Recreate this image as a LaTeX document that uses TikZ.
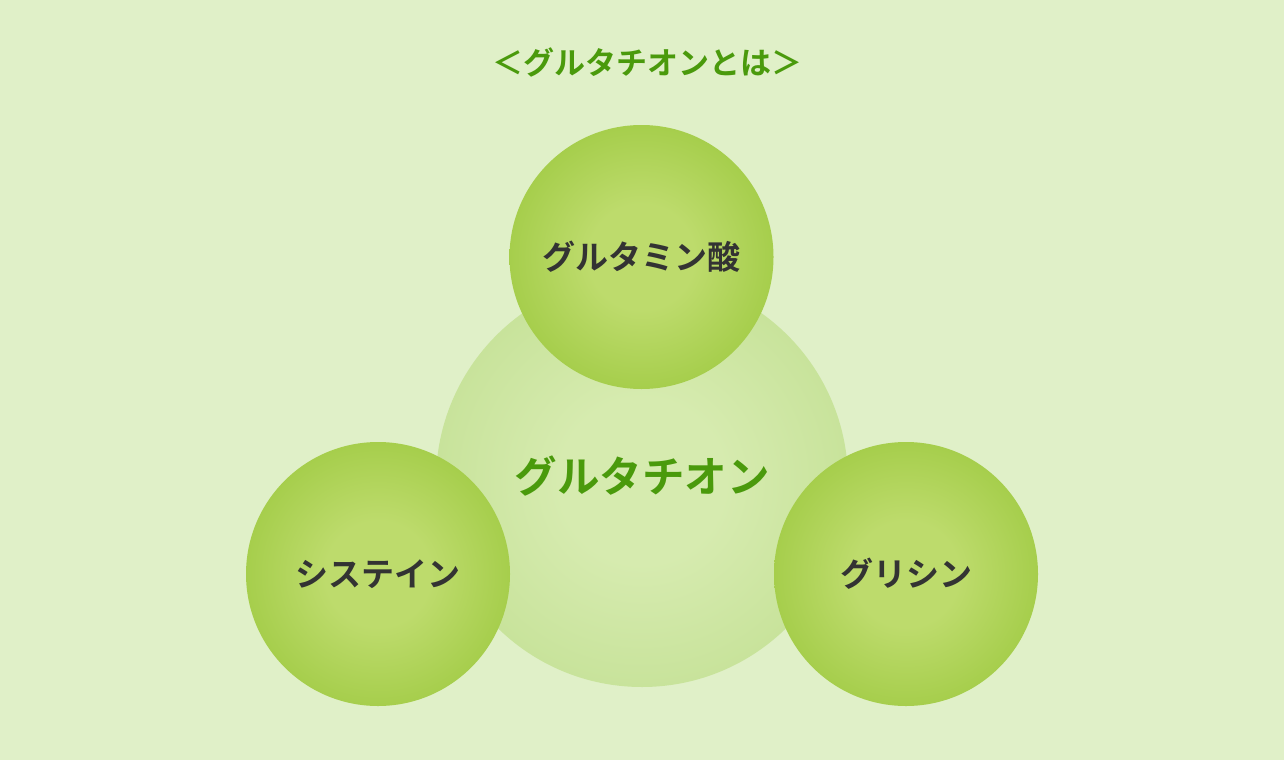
\documentclass[tikz,border=0pt]{standalone}
\usepackage{fontspec}
\newfontfamily\jp{Noto Sans CJK JP}[BoldFont={* Bold}]
\definecolor{bgc}{HTML}{E0F0C8}
\definecolor{bigin}{HTML}{D6EBAF}
\definecolor{bigout}{HTML}{C8E39B}
\definecolor{smin}{HTML}{BDDB6C}
\definecolor{smout}{HTML}{A6CE4C}
\definecolor{titlegreen}{HTML}{4A9A0C}
\definecolor{darktext}{HTML}{333333}
\pgfdeclareradialshading{bigball}{\pgfpoint{0bp}{0bp}}{color(0bp)=(bigin); color(10bp)=(bigin); color(25bp)=(bigout); color(50bp)=(bigout)}
\pgfdeclareradialshading{smallball}{\pgfpoint{0bp}{0bp}}{color(0bp)=(smin); color(10bp)=(smin); color(25bp)=(smout); color(50bp)=(smout)}
\begin{document}
\begin{tikzpicture}[x=1pt,y=-1pt,
  bigc/.style={circle, minimum size=412pt, inner sep=0pt, shading=bigball, draw=none},
  smallc/.style={circle, minimum size=264pt, inner sep=0pt, shading=smallball, draw=none},
  lbl/.style={font=\jp\bfseries\fontsize{33}{38}\selectfont, text=darktext},
  ttl/.style={font=\jp\bfseries\fontsize{31}{36}\selectfont, text=titlegreen}]
\fill[bgc] (0,0) rectangle (1284,760);
\useasboundingbox (0,0) rectangle (1284,760);
\node[ttl] (title) at (647,62) {＜グルタチオンとは＞};
\node[bigc] (glut) at (642,481) {};
\node[font=\jp\bfseries\fontsize{42.5}{48}\selectfont, text=titlegreen] (glutlbl) at (642,476) {グルタチオン};
\node[smallc] (top) at (641.5,257) {};
\node[lbl] at (top.center) {グルタミン酸};
\node[smallc] (left) at (378,574) {};
\node[lbl] at (left.center) {システイン};
\node[smallc] (right) at (906,574) {};
\node[lbl] at (right.center) {グリシン};
\end{tikzpicture}
\end{document}
